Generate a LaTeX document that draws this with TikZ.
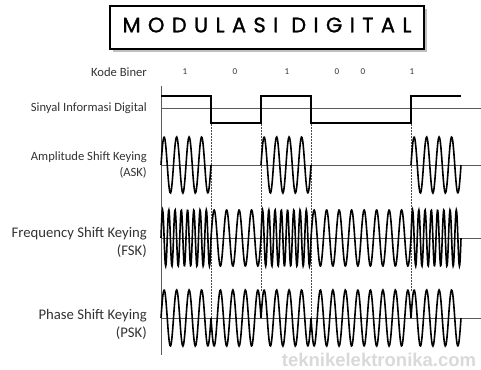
\documentclass[tikz,border=0pt]{standalone}
\usepackage{fontspec}
\setmainfont{Carlito}
\newfontfamily\titlefont[LetterSpace=35, FakeBold=1.2]{Poppins}
\newfontfamily\markfont{Liberation Sans}
\usetikzlibrary{positioning}
\definecolor{inkgray}{RGB}{50,50,50}
\definecolor{linegray}{RGB}{90,90,90}

\tikzset{
  rowlabel/.style={anchor=east, align=right, text=inkgray, inner sep=0pt},
  smalllabel/.style={rowlabel, font=\fontsize{12.6}{16}\selectfont},
  biglabel/.style={rowlabel, font=\fontsize{14.7}{18}\selectfont},
  bitlabel/.style={text=inkgray, inner sep=0pt, font=\fontsize{9}{9}\selectfont},
  wave/.style={black, line width=1.6pt},
  baseline/.style={linegray, line width=0.9pt},
  boundary/.style={black!70, dashed, dash pattern=on 1.5pt off 1.5pt, line width=0.8pt}
}

\begin{document}
\begin{tikzpicture}[x=1pt, y=-1pt]
  \useasboundingbox (0,0) rectangle (481,369);

  % Title box
  \fill[black!25] (113,9) rectangle (427,52);
  \draw[fill=white, line width=1.6pt] (110,6) rectangle (424,49);
  \node (title) at (267,25) {\titlefont\fontsize{21}{21}\selectfont MODULASI DIGITAL};

  % Row labels
  \node[smalllabel] (kode) at (147,72) {Kode Biner};
  \node[smalllabel] (sinyal) at (147,108) {Sinyal Informasi Digital};
  \node[smalllabel] (ask) at (147,165) {Amplitude Shift Keying\\(ASK)};
  \node[biglabel] (fsk) at (147,242) {Frequency Shift Keying\\(FSK)};
  \node[biglabel] (psk) at (147,324) {Phase Shift Keying\\(PSK)};

  % Binary code
  \foreach \xb/\b [count=\i] in {185/1, 235/0, 287/1, 337/0, 363/0, 412/1}
    \node[bitlabel] (bit\i) at (\xb,72) {\b};

  % Axis and centre lines
  \draw[baseline] (161,86) -- (161,355);
  \foreach \yc in {108, 165, 238, 318}
    \draw[baseline] (161,\yc) -- (481,\yc);

  % Dashed bit boundaries
  \foreach \xd/\ye in {211/318, 261/292, 311/318, 411/292}
    \draw[boundary] (\xd,124) -- (\xd,\ye);

  % Digital signal
  \draw[black, line width=1.3pt] (161,96) -- (211,96) -- (211,123) -- (261,123)
    -- (261,96) -- (311,96) -- (311,123) -- (411,123) -- (411,96) -- (461,96);

  % Carriers for each bit
  \foreach \b [count=\i from 0] in {1,0,1,0,0,1} {
    \pgfmathsetmacro{\xs}{161+50*\i}
    \pgfmathsetmacro{\xe}{\xs+50}
    \pgfmathsetmacro{\fc}{\b==1 ? 8 : 4}
    \pgfmathsetmacro{\sg}{\b==1 ? 1 : -1}
    % ASK
    \ifnum\b=1
      \draw[wave] plot[domain=\xs:\xe, samples=90, smooth]
        (\x, {165-28*sin(28.8*(\x-\xs))});
    \fi
    % FSK
    \draw[wave] plot[domain=\xs:\xe, samples=160, smooth]
      (\x, {238-28*sin(7.2*\fc*(\x-\xs))});
    % PSK
    \draw[wave] plot[domain=\xs:\xe, samples=90, smooth]
      (\x, {318-28*\sg*sin(28.8*(\x-\xs))});
  }

  % Watermark
  \node[text=black!15, font=\markfont\bfseries\fontsize{18.5}{18.5}\selectfont] (mark) at (379,360) {teknikelektronika.com};
\end{tikzpicture}
\end{document}
